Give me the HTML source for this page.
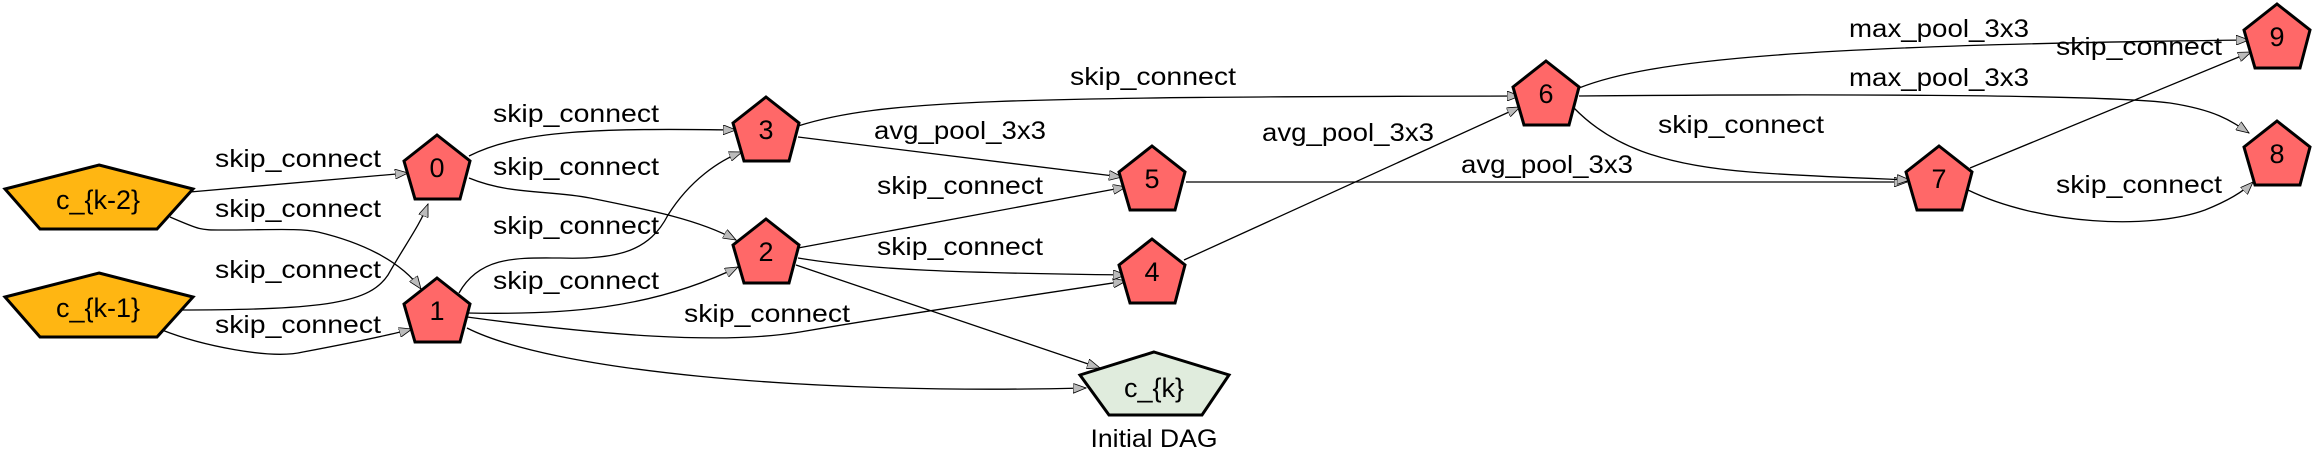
<!DOCTYPE html>
<html><head><meta charset="utf-8"><style>
html,body{margin:0;padding:0;background:#fff;}
svg{display:block;}
text{font-family:"Liberation Sans",sans-serif;}
.l{font-size:25px;fill:#000;text-anchor:middle;}
.n{font-size:27px;fill:#000;text-anchor:middle;}
.e{fill:none;stroke:#000;stroke-width:1.3;}
.r{fill:#ff6868;stroke:#000;stroke-width:3;stroke-linejoin:miter;}
</style></head><body>
<svg width="2316" height="467" viewBox="0 0 2316 467" xmlns="http://www.w3.org/2000/svg">
<defs>
<marker id="a" markerWidth="14" markerHeight="10" refX="13" refY="5" orient="auto" markerUnits="userSpaceOnUse">
<path d="M0,0 L13,5 L0,10 Z" fill="#bbb" stroke="#000" stroke-width="0.8"/>
</marker>
</defs>
<g class="e" marker-end="url(#a)">
<path d="M190,192 L408,173"/>
<path d="M170,217 C200,230 200,230 222,230 C270,230 300,228 318,232 C360,242 400,260 421,289"/>
<path d="M179,310 C330,310 370,302 388,275 C405,245 420,225 428,204"/>
<path d="M162,330 C200,345 270,360 303,352 C340,345 390,335 412,329"/>
<path d="M469,156 C520,130 600,128 736,130"/>
<path d="M469,178 C510,195 550,190 590,198 C650,210 700,220 736,240"/>
<path d="M459,293 C480,255 520,258 560,258 C620,260 650,250 668,215 C690,180 720,160 742,152"/>
<path d="M467,313 C560,315 650,310 738,267"/>
<path d="M467,317 C600,335 720,345 800,332 C900,315 1000,300 1126,281"/>
<path d="M467,328 C550,370 800,395 1086,388"/>
<path d="M798,137 L1122,177"/>
<path d="M798,126 C880,100 1000,97 1520,96"/>
<path d="M798,248 L1126,187"/>
<path d="M798,258 C870,270 960,273 1126,275"/>
<path d="M796,265 L1100,368"/>
<path d="M1186,182 L1907,182"/>
<path d="M1184,260 L1520,107"/>
<path d="M1579,88 C1650,60 1800,45 2249,40"/>
<path d="M1579,96 C1800,94 2100,94 2170,103 C2215,110 2230,120 2249,133"/>
<path d="M1574,108 C1610,145 1660,165 1750,172 C1800,176 1860,178 1910,180"/>
<path d="M1970,168 L2251,52"/>
<path d="M1968,190 C2040,225 2150,230 2205,210 C2230,200 2245,190 2253,182"/>
</g>
<g>
<polygon points="99,165 193,189 157,229 40,229 5,189" fill="#ffb612" stroke="#000" stroke-width="3"/>
<polygon points="99,273 193,297 157,337 40,337 5,297" fill="#ffb612" stroke="#000" stroke-width="3"/>
<polygon points="1154,352 1229,375 1202,415 1109,415 1080,375" fill="#e0ecdd" stroke="#000" stroke-width="3"/>
<polygon class="r" points="437,135 470,161 460,199 415,199 404,161"/>
<polygon class="r" points="437,278 470,304 460,342 415,342 404,304"/>
<polygon class="r" points="766,97 799,123 789,161 744,161 733,123"/>
<polygon class="r" points="766,219 799,245 789,283 744,283 733,245"/>
<polygon class="r" points="1152,146 1185,172 1175,210 1130,210 1119,172"/>
<polygon class="r" points="1152,239 1185,265 1175,303 1130,303 1119,265"/>
<polygon class="r" points="1546,61 1579,87 1569,125 1524,125 1513,87"/>
<polygon class="r" points="1939,146 1972,172 1962,210 1917,210 1906,172"/>
<polygon class="r" points="2277,4 2310,30 2300,68 2255,68 2244,30"/>
<polygon class="r" points="2277,121 2310,147 2300,185 2255,185 2244,147"/>
</g>
<g class="n">
<text x="98" y="209">c_{k-2}</text>
<text x="98" y="317">c_{k-1}</text>
<text x="1154" y="397">c_{k}</text>
<text x="1154" y="447" font-size="25" textLength="127" lengthAdjust="spacingAndGlyphs">Initial DAG</text>
<text x="437" y="177">0</text>
<text x="437" y="320">1</text>
<text x="766" y="139">3</text>
<text x="766" y="261">2</text>
<text x="1152" y="188">5</text>
<text x="1152" y="281">4</text>
<text x="1546" y="103">6</text>
<text x="1939" y="188">7</text>
<text x="2277" y="46">9</text>
<text x="2277" y="163">8</text>
</g>
<g class="l" lengthAdjust="spacingAndGlyphs">
<text x="298" y="167" textLength="166" lengthAdjust="spacingAndGlyphs">skip_connect</text>
<text x="298" y="217" textLength="166" lengthAdjust="spacingAndGlyphs">skip_connect</text>
<text x="298" y="278" textLength="166" lengthAdjust="spacingAndGlyphs">skip_connect</text>
<text x="298" y="333" textLength="166" lengthAdjust="spacingAndGlyphs">skip_connect</text>
<text x="576" y="122" textLength="166" lengthAdjust="spacingAndGlyphs">skip_connect</text>
<text x="576" y="175" textLength="166" lengthAdjust="spacingAndGlyphs">skip_connect</text>
<text x="576" y="234" textLength="166" lengthAdjust="spacingAndGlyphs">skip_connect</text>
<text x="576" y="289" textLength="166" lengthAdjust="spacingAndGlyphs">skip_connect</text>
<text x="767" y="322" textLength="166" lengthAdjust="spacingAndGlyphs">skip_connect</text>
<text x="960" y="139" textLength="172" lengthAdjust="spacingAndGlyphs">avg_pool_3x3</text>
<text x="960" y="194" textLength="166" lengthAdjust="spacingAndGlyphs">skip_connect</text>
<text x="960" y="255" textLength="166" lengthAdjust="spacingAndGlyphs">skip_connect</text>
<text x="1153" y="85" textLength="166" lengthAdjust="spacingAndGlyphs">skip_connect</text>
<text x="1348" y="141" textLength="172" lengthAdjust="spacingAndGlyphs">avg_pool_3x3</text>
<text x="1547" y="173" textLength="172" lengthAdjust="spacingAndGlyphs">avg_pool_3x3</text>
<text x="1939" y="37" textLength="180" lengthAdjust="spacingAndGlyphs">max_pool_3x3</text>
<text x="1939" y="86" textLength="180" lengthAdjust="spacingAndGlyphs">max_pool_3x3</text>
<text x="1741" y="133" textLength="166" lengthAdjust="spacingAndGlyphs">skip_connect</text>
<text x="2139" y="55" textLength="166" lengthAdjust="spacingAndGlyphs">skip_connect</text>
<text x="2139" y="193" textLength="166" lengthAdjust="spacingAndGlyphs">skip_connect</text>
</g>
</svg>
</body></html>
